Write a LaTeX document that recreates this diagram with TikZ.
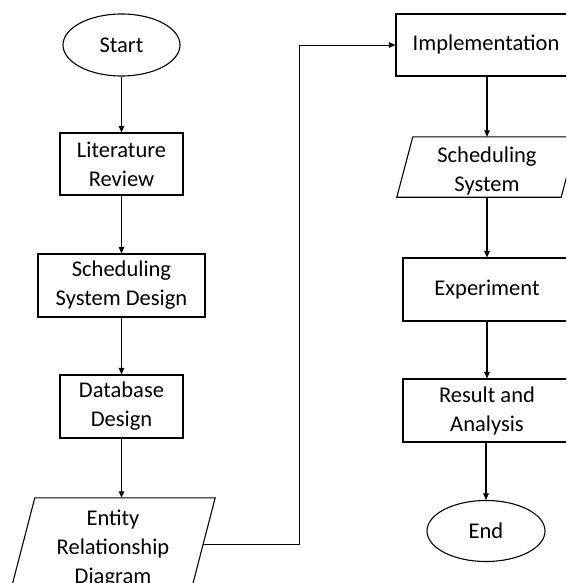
\documentclass[tikz,border=0pt]{standalone}
\usepackage{fontspec}
\setmainfont{Carlito}
\usetikzlibrary{shapes.geometric,arrows.meta,calc}
\tikzset{
  box/.style={draw, rectangle, inner sep=0pt, align=center, line width=1.1pt},
  oval/.style={draw, ellipse, inner sep=0pt, align=center, line width=1.1pt},
  pbody/.style={rectangle, inner sep=0pt, align=center},
  pline/.style={draw, line width=1.1pt, line join=miter},
  flow/.style={line width=1.1pt, -{Triangle[length=6.5pt,width=5.5pt]}},
}
\begin{document}
\begin{tikzpicture}[x=1pt,y=-1pt, font=\fontsize{22.5}{29}\selectfont]
\useasboundingbox (0,0) rectangle (566,583);
\clip (0,0) rectangle (566,583);
% left column
\node[oval, minimum width=117, minimum height=62] (start) at (121.5,45) {Start};
\node[box, minimum width=123, minimum height=62] (lit) at (121.5,164) {Literature\\Review};
\node[box, minimum width=167, minimum height=63] (ssd) at (121.5,285.5) {Scheduling\\System Design};
\node[box, minimum width=123, minimum height=63] (dbd) at (121.5,406.5) {Database\\Design};
\node[pbody, minimum width=180, minimum height=92] (erd) at (113,544) {\rule{0pt}{24.5pt}Entity\\Relationship\\Diagram};
\draw[pline] ($(erd.north west)+(12,0)$) -- ($(erd.north east)+(12,0)$)
  -- ($(erd.south east)+(-12,0)$) -- ($(erd.south west)+(-12,0)$) -- cycle;
% right column
\node[box, minimum width=180, minimum height=62] (impl) at (486,45) {Implementation};
\node[pbody, minimum width=164, minimum height=60] (ss) at (487,167) {\rule{0pt}{23.5pt}Scheduling\\System};
\draw[pline] ($(ss.north west)+(8,0)$) -- ($(ss.north east)+(8,0)$)
  -- ($(ss.south east)+(-8,0)$) -- ($(ss.south west)+(-8,0)$) -- cycle;
\node[box, minimum width=168, minimum height=63] (exp) at (487,289.5) {Experiment};
\node[box, minimum width=168, minimum height=63] (res) at (487,410.5) {Result and\\Analysis};
\node[oval, minimum width=118, minimum height=61] (end) at (486,531) {End};
% connectors
\draw[flow] (start) -- (lit);
\draw[flow] (lit) -- (ssd);
\draw[flow] (ssd) -- (dbd);
\draw[flow] (dbd.south) -- (dbd.south |- erd.north);
\coordinate (turn) at (299,544);
\draw[flow, line width=0.9pt] (erd.east) -- (turn) |- (impl.west);
\draw[flow] (impl.south -| ss.north) -- (ss.north);
\draw[flow] (ss.south) -- (exp.north);
\draw[flow] (exp) -- (res);
\draw[flow] (res.south -| end.north) -- (end.north);
\end{tikzpicture}
\end{document}
